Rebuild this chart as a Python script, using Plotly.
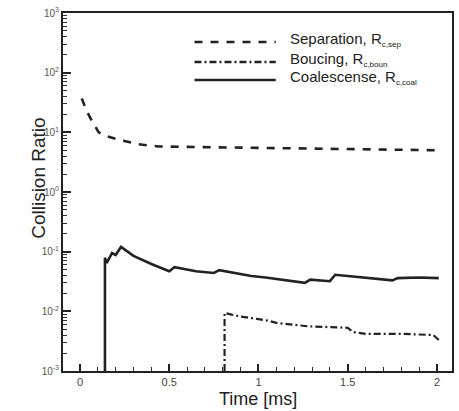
import plotly.graph_objects as go

# Separation, R_c,sep
sep_t = [0.01, 0.04, 0.07, 0.105, 0.15, 0.22, 0.33, 0.44, 0.6, 0.8, 1.0, 1.2, 1.4, 1.6, 1.8, 2.01]
sep_v = [37, 22, 15, 10, 8.6, 7.5, 6.3, 5.8, 5.7, 5.6, 5.5, 5.4, 5.3, 5.2, 5.1, 5.0]

# Bouncing, R_c,boun
boun_t = [0.81, 0.81, 0.85, 0.9, 1.0, 1.05, 1.1, 1.28, 1.5, 1.53, 1.6, 1.8, 1.98, 2.01]
boun_v = [0.001, 0.0094, 0.0088, 0.0082, 0.0074, 0.0070, 0.0064, 0.0056, 0.0053, 0.0045, 0.0042, 0.0042, 0.0040, 0.0033]

# Coalescence, R_c,coal
coal_t = [0.14, 0.14, 0.15, 0.18, 0.2, 0.23, 0.3, 0.4, 0.5, 0.53, 0.65, 0.75, 0.78, 0.96, 1.04, 1.26, 1.29, 1.4, 1.43, 1.75, 1.78, 1.9, 2.01]
coal_v = [0.001, 0.079, 0.065, 0.095, 0.088, 0.12, 0.085, 0.062, 0.047, 0.055, 0.047, 0.044, 0.049, 0.039, 0.037, 0.030, 0.034, 0.032, 0.041, 0.033, 0.036, 0.037, 0.036]

legend_names = ["Separation, R", "Boucing, R", "Coalescense, R"]
legend_subs = ["c,sep", "c,boun", "c,coal"]
x_ticks = [0, 0.5, 1, 1.5, 2]
x_ticklabels = ["0", "0.5", "1", "1.5", "2"]
y_ticks = [1e-3, 1e-2, 1e-1, 1, 10, 100, 1000]
y_ticklabels = ["10<sup>-3</sup>", "10<sup>-2</sup>", "10<sup>-1</sup>", "10<sup>0</sup>",
                "10<sup>1</sup>", "10<sup>2</sup>", "10<sup>3</sup>"]
y_minor = [m * 10 ** e for e in range(-3, 3) for m in range(2, 10)]

font = "Liberation Sans, Arial, sans-serif"

fig = go.Figure()
fig.add_trace(go.Scatter(x=sep_t, y=sep_v, mode="lines", line=dict(color="#222", width=2.6, dash="8px,8px")))
fig.add_trace(go.Scatter(x=boun_t, y=boun_v, mode="lines", line=dict(color="#222", width=2.2, dash="7px,3px,2px,3px")))
fig.add_trace(go.Scatter(x=coal_t, y=coal_v, mode="lines", line=dict(color="#222", width=2.6)))

# manual legend
rows = [0.919, 0.863, 0.813]
dashes = ["8px,8px", "7px,3px,2px,3px", "solid"]
for yv, d, nm, sb in zip(rows, dashes, legend_names, legend_subs):
    fig.add_shape(type="line", xref="paper", yref="paper", x0=0.338, x1=0.547, y0=yv, y1=yv,
                  line=dict(color="#222", width=2.4, dash=d))
    fig.add_annotation(xref="paper", yref="paper", x=0.578, y=yv + 0.008,
                       text=nm + "<sub><span style='font-size:8px'>" + sb + "</span></sub>",
                       showarrow=False, xanchor="left", yanchor="middle",
                       font=dict(family=font, size=15, color="#222"))

fig.add_annotation(xref="paper", yref="paper", x=-0.097, y=0.539, text="Collision Ratio", textangle=-90,
                   showarrow=False, font=dict(family=font, size=19, color="#222"))
fig.add_annotation(xref="paper", yref="paper", x=0.5, y=-0.078, text="Time [ms]",
                   showarrow=False, yanchor="middle", font=dict(family=font, size=18, color="#222"))

fig.update_layout(
    width=459, height=411,
    margin=dict(l=63, r=5, t=13, b=40),
    paper_bgcolor="white", plot_bgcolor="white",
    showlegend=False,
    font=dict(family=font, color="#222"),
    xaxis=dict(range=[-0.095, 2.084], tickvals=x_ticks, ticktext=x_ticklabels,
               ticks="inside", ticklen=7, tickwidth=1.5, tickcolor="#222",
               minor=dict(ticks="inside", ticklen=4, dtick=0.1, tick0=0, tickcolor="#333", tickwidth=1),
               showline=True, linecolor="#222", linewidth=2, mirror=True, showgrid=False, zeroline=False,
               tickfont=dict(size=11, color="#444")),
    yaxis=dict(type="log", range=[-3, 3], tickvals=y_ticks, ticktext=y_ticklabels,
               ticks="inside", ticklen=8, tickwidth=1.5, tickcolor="#222",
               minor=dict(ticks="inside", ticklen=4, tickvals=y_minor, tickcolor="#333", tickwidth=1),
               showline=True, linecolor="#222", linewidth=2, mirror=True, showgrid=False, zeroline=False,
               tickfont=dict(size=10, color="#555")),
)

fig.write_html("out.html", config={"displayModeBar": False},
               post_script="document.body.style.margin='0';")
